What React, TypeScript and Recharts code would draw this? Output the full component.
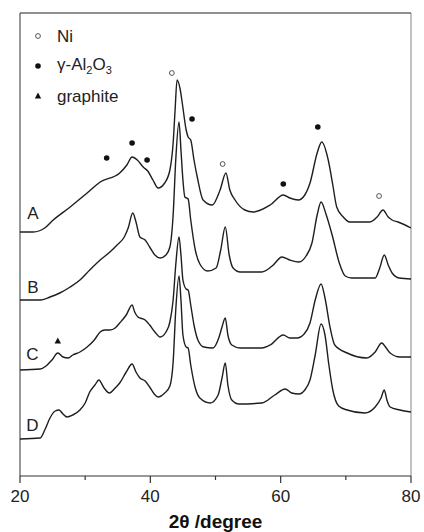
import { ComposedChart, Line, Scatter, XAxis, YAxis, ReferenceLine } from "recharts"

// 2θ (degree) and intensity (a.u., traces already stacked)
const thetaA = [20.0, 22.0, 23.8, 25.1, 27.7, 30.3, 32.3, 35.3, 36.4, 37.2, 38.0, 38.9, 39.6, 40.4, 41.2, 42.2, 43.0, 43.5, 43.8, 44.1, 44.6, 44.9, 45.5, 45.8, 46.2, 46.7, 47.2, 48.1, 49.5, 50.7, 51.6, 52.2, 53.0, 54.5, 55.8, 58.4, 60.4, 61.4, 62.7, 63.7, 64.5, 65.6, 66.3, 67.3, 68.0, 68.6, 69.6, 70.6, 73.7, 74.8, 75.7, 76.5, 77.1, 78.0, 79.1, 80.0]
const intensityA = [244, 244, 248, 256, 269, 283, 294, 303, 311, 319, 316, 309, 305, 296, 288, 293, 306, 333, 366, 396, 386, 373, 346, 339, 336, 316, 299, 276, 271, 286, 303, 286, 276, 266, 264, 271, 281, 278, 276, 281, 293, 323, 334, 316, 291, 269, 259, 254, 254, 259, 266, 259, 256, 254, 251, 248]

const thetaB = [20.0, 23.1, 24.6, 26.1, 27.7, 29.2, 30.7, 32.3, 33.8, 34.9, 36.0, 36.6, 37.3, 37.8, 38.4, 39.2, 39.9, 40.7, 41.5, 42.4, 43.0, 43.5, 43.9, 44.4, 44.7, 45.0, 45.3, 45.8, 46.2, 46.9, 47.6, 48.8, 50.1, 50.8, 51.5, 52.1, 52.7, 53.8, 57.1, 58.7, 60.2, 61.4, 62.8, 63.9, 64.8, 65.6, 66.2, 67.0, 67.9, 69.0, 69.9, 70.9, 74.5, 75.2, 75.9, 76.5, 77.1, 78.2, 80.0]
const intensityB = [176, 176, 179, 183, 189, 196, 206, 216, 224, 231, 239, 248, 263, 254, 239, 236, 229, 221, 218, 221, 229, 261, 316, 354, 326, 296, 279, 277, 256, 226, 212, 205, 208, 226, 249, 221, 208, 204, 204, 210, 219, 216, 214, 220, 233, 261, 274, 261, 241, 213, 200, 198, 198, 208, 221, 211, 203, 198, 197]

const thetaC = [20.0, 23.1, 24.0, 24.9, 25.8, 26.6, 27.4, 28.1, 29.2, 30.3, 31.4, 32.3, 33.0, 33.8, 34.6, 35.3, 36.3, 37.2, 37.6, 38.1, 39.2, 39.9, 40.7, 41.5, 42.4, 43.0, 43.5, 43.9, 44.4, 44.7, 45.0, 45.5, 45.8, 46.2, 46.7, 47.3, 48.2, 49.6, 50.5, 51.0, 51.5, 51.9, 52.5, 53.8, 57.1, 58.4, 60.4, 61.4, 62.5, 63.6, 64.5, 65.3, 66.2, 66.8, 67.6, 68.3, 70.2, 73.2, 74.5, 75.5, 76.2, 76.8, 78.3, 80.0]
const intensityC = [106, 107, 110, 116, 123, 119, 118, 121, 124, 129, 136, 144, 146, 146, 148, 153, 161, 171, 164, 159, 156, 151, 144, 139, 144, 154, 176, 211, 239, 221, 196, 187, 186, 171, 151, 136, 129, 128, 138, 149, 158, 141, 131, 128, 128, 131, 141, 138, 138, 142, 153, 176, 192, 178, 148, 131, 123, 118, 124, 133, 128, 123, 119, 119]

const thetaD = [20.0, 23.1, 23.8, 24.6, 25.4, 26.0, 26.6, 27.2, 28.1, 29.2, 30.0, 30.7, 31.5, 32.1, 32.9, 33.7, 34.6, 35.3, 36.3, 37.2, 37.8, 38.4, 39.2, 39.9, 40.6, 41.2, 42.2, 43.0, 43.5, 43.9, 44.4, 44.7, 45.0, 45.5, 45.8, 46.2, 46.9, 47.6, 49.2, 50.4, 51.0, 51.5, 51.9, 52.5, 53.6, 57.1, 59.1, 60.7, 61.7, 62.8, 63.7, 64.5, 65.3, 66.2, 66.8, 67.4, 68.0, 68.9, 70.2, 72.9, 74.5, 75.4, 75.9, 76.3, 76.8, 78.3, 80.0]
const intensityD = [37, 38, 46, 58, 65, 66, 62, 59, 61, 66, 73, 84, 91, 96, 88, 83, 88, 93, 104, 112, 104, 98, 95, 89, 82, 79, 83, 90, 114, 166, 200, 176, 141, 129, 128, 111, 88, 78, 73, 81, 98, 113, 91, 76, 72, 73, 81, 87, 83, 82, 86, 96, 121, 152, 141, 111, 86, 70, 66, 63, 69, 78, 86, 76, 69, 66, 64]

// phase markers
const niTheta = [43.3, 51.1, 75.1]
const niLevel = [403, 312, 280]
const aluminaTheta = [33.3, 37.2, 39.5, 46.4, 60.4, 65.7]
const aluminaLevel = [318, 333, 316, 357, 292, 349]
const graphiteTheta = [25.8]
const graphiteLevel = [135]

// sample labels
const sampleNames = ["A", "B", "C", "D"]
const sampleTheta = [22.0, 22.0, 21.9, 21.9]
const sampleLevel = [263, 189, 122, 51]

const xTicks = [20, 30, 40, 50, 60, 70, 80]

const zip = (t: number[], v: number[]) => t.map((x, i) => ({ x, y: v[i] }))

const FONT = "'Liberation Sans', Arial, sans-serif"
const INK = "#1e1e1e"

function XTick({ x, y, payload }: any) {
    const major = payload.value % 20 === 0
    return (
        <g>
            <line x1={x} x2={x} y1={y} y2={y + (major ? 7 : 4)} stroke="#333" strokeWidth={1.2} />
            {major && (
                <text x={x} y={y + 26} textAnchor="middle" fontFamily={FONT} fontSize={17} fill="#222">
                    {payload.value}
                </text>
            )}
        </g>
    )
}

const openCircle = (p: any) => <circle cx={p.cx} cy={p.cy} r={2.4} fill="#fff" stroke="#555" strokeWidth={1} />
const filledDot = (p: any) => <circle cx={p.cx} cy={p.cy} r={2.8} fill="#111" />
const triangle = (p: any) => (
    <polygon points={`${p.cx},${p.cy - 3.5} ${p.cx - 3.2},${p.cy + 2.5} ${p.cx + 3.2},${p.cy + 2.5}`} fill="#111" />
)
const sampleText = (p: any) => (
    <text x={p.cx} y={p.cy} textAnchor="middle" dominantBaseline="central" fontFamily={FONT} fontSize={17} fill="#222">
        {p.payload.name}
    </text>
)

function LegendRow({ marker, children }: { marker: React.ReactNode; children: React.ReactNode }) {
    return (
        <div style={{ display: "flex", alignItems: "center", height: 30 }}>
            <svg width={16} height={12} style={{ marginRight: 11 }}>{marker}</svg>
            <span>{children}</span>
        </div>
    )
}

export default function App() {
    const labels = sampleNames.map((name, i) => ({ x: sampleTheta[i], y: sampleLevel[i], name }))
    return (
        <div style={{ position: "absolute", left: 0, top: 0, width: 424, height: 532, background: "#fff" }}>
            <ComposedChart width={424} height={532} margin={{ top: 13, right: 13, bottom: 0, left: 20 }}>
                <XAxis
                    type="number"
                    dataKey="x"
                    domain={[20, 80]}
                    ticks={xTicks}
                    allowDataOverflow
                    height={56}
                    tickSize={0}
                    tickMargin={0}
                    tickLine={false}
                    axisLine={{ stroke: "#333", strokeWidth: 1.2 }}
                    tick={<XTick />}
                    label={{
                        value: "2θ /degree",
                        position: "insideBottom",
                        offset: 4,
                        fontFamily: FONT,
                        fontSize: 19,
                        fontWeight: "bold",
                        fill: "#111",
                    }}
                />
                <YAxis type="number" dataKey="y" domain={[0, 463]} hide allowDataOverflow />
                <ReferenceLine x={20} stroke="#555" strokeWidth={1.2} />
                <ReferenceLine x={80} stroke="#999" strokeWidth={1.2} />
                <ReferenceLine y={463} stroke="#222" strokeWidth={1.2} />

                <Line data={zip(thetaA, intensityA)} dataKey="y" type="monotone" stroke={INK} strokeWidth={1.4} dot={false} isAnimationActive={false} />
                <Line data={zip(thetaB, intensityB)} dataKey="y" type="monotone" stroke={INK} strokeWidth={1.4} dot={false} isAnimationActive={false} />
                <Line data={zip(thetaC, intensityC)} dataKey="y" type="monotone" stroke={INK} strokeWidth={1.4} dot={false} isAnimationActive={false} />
                <Line data={zip(thetaD, intensityD)} dataKey="y" type="monotone" stroke={INK} strokeWidth={1.4} dot={false} isAnimationActive={false} />

                <Scatter data={zip(niTheta, niLevel)} shape={openCircle} isAnimationActive={false} />
                <Scatter data={zip(aluminaTheta, aluminaLevel)} shape={filledDot} isAnimationActive={false} />
                <Scatter data={zip(graphiteTheta, graphiteLevel)} shape={triangle} isAnimationActive={false} />
                <Scatter data={labels} shape={sampleText} isAnimationActive={false} />
            </ComposedChart>

            <div style={{ position: "absolute", left: 30, top: 21, fontFamily: FONT, fontSize: 17, color: "#222", lineHeight: 1 }}>
                <LegendRow marker={<circle cx={8} cy={6} r={2.4} fill="#fff" stroke="#555" strokeWidth={1} />}>Ni</LegendRow>
                <LegendRow marker={<circle cx={8} cy={6} r={2.8} fill="#111" />}>
                    γ-Al<sub style={{ fontSize: 11 }}>2</sub>O<sub style={{ fontSize: 11 }}>3</sub>
                </LegendRow>
                <LegendRow marker={<polygon points="8,2.5 4.8,8.5 11.2,8.5" fill="#111" />}>graphite</LegendRow>
            </div>
        </div>
    )
}
